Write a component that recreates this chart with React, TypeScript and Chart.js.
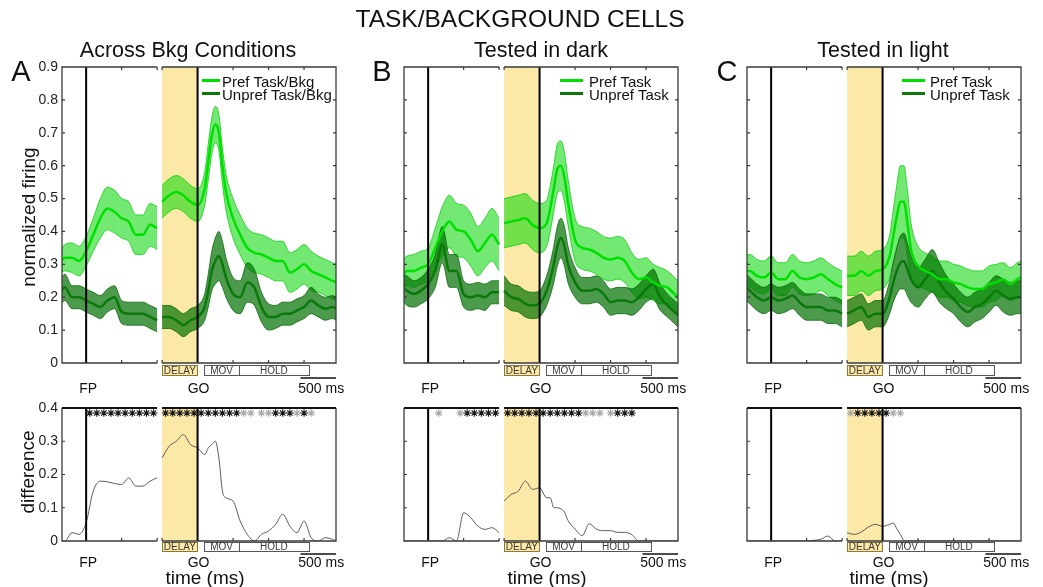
import React, { useEffect, useRef } from 'react';
import { Chart, registerables } from 'chart.js';
Chart.register(...registerables);

const W = 1043, H = 587;
const FONT = '"Liberation Sans", Arial, Helvetica, sans-serif';

// ---------- time bases (ms) ----------
const LEFT_T = [-350, -300, -200, -100, 0, 100, 200, 300, 400, 500, 600, 700, 800, 900, 1000]; // aligned to FP
const RIGHT_T = [-500, -400, -300, -200, -100, 0, 100, 150, 200, 250, 300, 350, 400, 500, 600, 700, 800, 900, 1000, 1100, 1200, 1300, 1400, 1500, 1600, 1700, 1800, 1900, 1950]; // aligned to GO
const X_START = -340;
const FP_TIME = 0;
const LEFT_END = 1000;
const GAP_MS = 70;
const DELAY_START = -500;
const RIGHT_END = 1950;
const GO_OFFSET = LEFT_END + GAP_MS - DELAY_START;
const X_END = GO_OFFSET + RIGHT_END;
const MOV_START = 90, MOV_END = 585, HOLD_END = 1565;
const SCALE_BAR_MS = 500;
const X_TICKS_FP = [500, 1000];
const X_TICKS_GO = [-500, 500, 1000, 1500];
const TOP_Y_MAX = 0.9, BOT_Y_MAX = 0.4, Y_STEP = 0.1;
const STAR_Y = 0.385;

// ---------- Panel A: across background conditions ----------
const A_PREF_L = [0.31, 0.32, 0.32, 0.31, 0.34, 0.39, 0.44, 0.47, 0.46, 0.44, 0.43, 0.39, 0.39, 0.42, 0.41];
const A_PREF_L_SEM = [0.035, 0.04, 0.045, 0.045, 0.045, 0.05, 0.06, 0.065, 0.065, 0.06, 0.06, 0.06, 0.06, 0.065, 0.065];
const A_PREF_R = [0.49, 0.51, 0.52, 0.51, 0.49, 0.48, 0.53, 0.61, 0.69, 0.725, 0.70, 0.60, 0.52, 0.44, 0.39, 0.35, 0.335, 0.33, 0.32, 0.31, 0.31, 0.275, 0.285, 0.30, 0.28, 0.27, 0.26, 0.25, 0.245];
const A_PREF_R_SEM = [0.05, 0.05, 0.05, 0.05, 0.05, 0.05, 0.05, 0.055, 0.055, 0.055, 0.055, 0.055, 0.055, 0.06, 0.06, 0.06, 0.06, 0.06, 0.06, 0.06, 0.06, 0.06, 0.06, 0.06, 0.06, 0.055, 0.055, 0.055, 0.055];
const A_UNP_L = [0.22, 0.23, 0.20, 0.20, 0.19, 0.18, 0.17, 0.19, 0.20, 0.155, 0.15, 0.15, 0.15, 0.14, 0.13];
const A_UNP_L_SEM = [0.04, 0.04, 0.035, 0.035, 0.035, 0.035, 0.035, 0.035, 0.035, 0.035, 0.035, 0.035, 0.035, 0.035, 0.035];
const A_UNP_R = [0.14, 0.14, 0.13, 0.115, 0.13, 0.14, 0.17, 0.22, 0.28, 0.31, 0.325, 0.30, 0.26, 0.21, 0.20, 0.245, 0.23, 0.17, 0.14, 0.14, 0.15, 0.15, 0.16, 0.17, 0.19, 0.175, 0.165, 0.17, 0.165];
const A_UNP_R_SEM = [0.035, 0.035, 0.035, 0.035, 0.035, 0.035, 0.04, 0.05, 0.06, 0.07, 0.075, 0.07, 0.06, 0.05, 0.05, 0.06, 0.055, 0.045, 0.04, 0.035, 0.035, 0.035, 0.035, 0.035, 0.04, 0.035, 0.035, 0.035, 0.035];
const A_DIFF_L = [0, 0, 0.025, 0.02, 0.055, 0.15, 0.18, 0.178, 0.173, 0.17, 0.19, 0.165, 0.165, 0.18, 0.19];
const A_DIFF_R = [0.25, 0.285, 0.30, 0.32, 0.29, 0.28, 0.26, 0.28, 0.29, 0.30, 0.25, 0.15, 0.13, 0.12, 0.06, 0.02, 0, 0.02, 0.03, 0.05, 0.08, 0.045, 0.025, 0.06, 0.01, 0, 0.01, 0.005, 0];
const A_STAR_BLACK_L = [50, 150, 250, 350, 450, 550, 650, 750, 850, 950];
const A_STAR_GRAY_L: number[] = [];
const A_STAR_BLACK_R = [-450, -350, -250, -150, -50, 50, 150, 250, 350, 450, 550, 1100, 1200, 1300, 1500];
const A_STAR_GRAY_R = [650, 750, 900, 1000, 1400, 1600];

// ---------- Panel B: tested in dark ----------
const B_PREF_L = [0.27, 0.28, 0.28, 0.29, 0.30, 0.35, 0.40, 0.43, 0.405, 0.40, 0.375, 0.34, 0.365, 0.39, 0.36];
const B_PREF_L_SEM = [0.045, 0.045, 0.05, 0.05, 0.05, 0.06, 0.075, 0.08, 0.08, 0.08, 0.08, 0.075, 0.075, 0.08, 0.08];
const B_PREF_R = [0.425, 0.43, 0.435, 0.44, 0.42, 0.41, 0.425, 0.47, 0.53, 0.59, 0.60, 0.565, 0.49, 0.375, 0.35, 0.345, 0.335, 0.32, 0.315, 0.32, 0.31, 0.275, 0.255, 0.26, 0.245, 0.235, 0.23, 0.21, 0.20];
const B_PREF_R_SEM = [0.075, 0.075, 0.075, 0.075, 0.075, 0.075, 0.07, 0.07, 0.07, 0.075, 0.075, 0.075, 0.07, 0.065, 0.065, 0.065, 0.065, 0.065, 0.065, 0.065, 0.065, 0.06, 0.06, 0.06, 0.055, 0.055, 0.05, 0.05, 0.05];
const B_UNP_L = [0.23, 0.22, 0.21, 0.22, 0.24, 0.28, 0.36, 0.28, 0.28, 0.21, 0.20, 0.205, 0.20, 0.215, 0.215];
const B_UNP_L_SEM = [0.04, 0.045, 0.04, 0.04, 0.045, 0.05, 0.055, 0.05, 0.05, 0.04, 0.04, 0.04, 0.04, 0.035, 0.035];
const B_UNP_R = [0.22, 0.20, 0.195, 0.18, 0.175, 0.18, 0.22, 0.255, 0.30, 0.355, 0.38, 0.355, 0.30, 0.245, 0.22, 0.22, 0.225, 0.21, 0.185, 0.19, 0.19, 0.185, 0.20, 0.225, 0.24, 0.20, 0.175, 0.155, 0.145];
const B_UNP_R_SEM = [0.045, 0.04, 0.04, 0.04, 0.04, 0.04, 0.045, 0.05, 0.055, 0.06, 0.06, 0.06, 0.055, 0.045, 0.04, 0.04, 0.04, 0.04, 0.04, 0.04, 0.04, 0.04, 0.04, 0.04, 0.045, 0.04, 0.035, 0.035, 0.035];
const B_DIFF_L = [0, 0, 0, 0, 0, 0, 0, 0.01, 0, 0.085, 0.07, 0.045, 0.035, 0.04, 0.025];
const B_DIFF_R = [0.12, 0.14, 0.15, 0.18, 0.155, 0.16, 0.13, 0.13, 0.10, 0.10, 0.097, 0.087, 0.062, 0.036, 0.016, 0.052, 0.036, 0.031, 0.031, 0.026, 0.026, 0.019, 0, 0, 0, 0, 0, 0, 0];
const B_STAR_BLACK_L = [550, 650, 750, 850, 950];
const B_STAR_GRAY_L = [150, 450];
const B_STAR_BLACK_R = [-450, -350, -250, -150, -50, 50, 150, 250, 350, 450, 550, 1100, 1200, 1300];
const B_STAR_GRAY_R = [650, 750, 850, 1000];

// ---------- Panel C: tested in light ----------
const C_PREF_L = [0.28, 0.28, 0.265, 0.26, 0.275, 0.255, 0.255, 0.28, 0.26, 0.255, 0.26, 0.27, 0.255, 0.24, 0.23];
const C_PREF_L_SEM = [0.05, 0.05, 0.05, 0.05, 0.05, 0.05, 0.05, 0.05, 0.05, 0.05, 0.05, 0.05, 0.05, 0.05, 0.05];
const C_PREF_R = [0.265, 0.265, 0.28, 0.265, 0.28, 0.285, 0.325, 0.385, 0.445, 0.49, 0.49, 0.425, 0.345, 0.295, 0.28, 0.27, 0.255, 0.255, 0.245, 0.24, 0.23, 0.225, 0.225, 0.24, 0.245, 0.255, 0.24, 0.255, 0.26];
const C_PREF_R_SEM = [0.06, 0.06, 0.06, 0.06, 0.06, 0.06, 0.065, 0.08, 0.095, 0.11, 0.11, 0.10, 0.08, 0.06, 0.055, 0.055, 0.055, 0.055, 0.055, 0.055, 0.055, 0.055, 0.055, 0.055, 0.055, 0.05, 0.05, 0.05, 0.05];
const C_UNP_L = [0.23, 0.22, 0.20, 0.19, 0.20, 0.19, 0.195, 0.205, 0.185, 0.17, 0.17, 0.17, 0.16, 0.16, 0.15];
const C_UNP_L_SEM = [0.04, 0.04, 0.04, 0.04, 0.04, 0.04, 0.04, 0.04, 0.04, 0.04, 0.04, 0.04, 0.04, 0.04, 0.04];
const C_UNP_R = [0.15, 0.16, 0.17, 0.14, 0.15, 0.15, 0.20, 0.245, 0.28, 0.305, 0.31, 0.285, 0.255, 0.23, 0.255, 0.28, 0.245, 0.215, 0.195, 0.17, 0.155, 0.17, 0.18, 0.20, 0.22, 0.205, 0.195, 0.20, 0.20];
const C_UNP_R_SEM = [0.04, 0.04, 0.04, 0.04, 0.04, 0.04, 0.05, 0.06, 0.07, 0.08, 0.085, 0.08, 0.07, 0.06, 0.06, 0.065, 0.06, 0.05, 0.045, 0.045, 0.045, 0.045, 0.045, 0.045, 0.045, 0.05, 0.05, 0.05, 0.05];
const C_DIFF_L = [0, 0, 0, 0, 0, 0, 0, 0, 0, 0, 0.002, 0.005, 0.015, 0, 0];
const C_DIFF_R = [0.025, 0.02, 0.027, 0.042, 0.05, 0.044, 0.05, 0.054, 0.037, 0.02, 0.002, 0, 0, 0, 0, 0, 0, 0, 0, 0, 0, 0, 0, 0, 0, 0, 0, 0, 0];
const C_STAR_BLACK_L: number[] = [];
const C_STAR_GRAY_L: number[] = [];
const C_STAR_BLACK_R = [-350, -250, -150, -50, 50];
const C_STAR_GRAY_R = [-450, 150, 250];

// ---------- text ----------
const FIG_TITLE = 'TASK/BACKGROUND CELLS';
const PANEL_TITLES = ['Across Bkg Conditions', 'Tested in dark', 'Tested in light'];
const PANEL_LETTERS = ['A', 'B', 'C'];
const PREF_LABELS = ['Pref Task/Bkg', 'Pref Task', 'Pref Task'];
const UNPREF_LABELS = ['Unpref Task/Bkg', 'Unpref Task', 'Unpref Task'];

const PANEL_DATA = [
  { prefL: A_PREF_L, prefLSem: A_PREF_L_SEM, prefR: A_PREF_R, prefRSem: A_PREF_R_SEM, unpL: A_UNP_L, unpLSem: A_UNP_L_SEM, unpR: A_UNP_R, unpRSem: A_UNP_R_SEM, diffL: A_DIFF_L, diffR: A_DIFF_R, sbL: A_STAR_BLACK_L, sgL: A_STAR_GRAY_L, sbR: A_STAR_BLACK_R, sgR: A_STAR_GRAY_R },
  { prefL: B_PREF_L, prefLSem: B_PREF_L_SEM, prefR: B_PREF_R, prefRSem: B_PREF_R_SEM, unpL: B_UNP_L, unpLSem: B_UNP_L_SEM, unpR: B_UNP_R, unpRSem: B_UNP_R_SEM, diffL: B_DIFF_L, diffR: B_DIFF_R, sbL: B_STAR_BLACK_L, sgL: B_STAR_GRAY_L, sbR: B_STAR_BLACK_R, sgR: B_STAR_GRAY_R },
  { prefL: C_PREF_L, prefLSem: C_PREF_L_SEM, prefR: C_PREF_R, prefRSem: C_PREF_R_SEM, unpL: C_UNP_L, unpLSem: C_UNP_L_SEM, unpR: C_UNP_R, unpRSem: C_UNP_R_SEM, diffL: C_DIFF_L, diffR: C_DIFF_R, sbL: C_STAR_BLACK_L, sgL: C_STAR_GRAY_L, sbR: C_STAR_BLACK_R, sgR: C_STAR_GRAY_R },
];

// ---------- layout & style ----------
const PLOT_LEFT = [62, 404, 747];
const PLOT_RIGHT = [336, 678, 1021];
const AXIS_W = 40;
const TOP_Y = [67, 363];
const BOT_Y = [408, 541];
const TITLE_X = [188, 541, 883];
const LETTER_X = [21, 382, 727];
const LEGEND_X = [202, 560, 902];
const LEGEND_LEN = [18, 23, 23];
const LEGEND_TEXT_X = [222, 589, 930];
const YELLOW = '#fde9a7';
const FRAME = '#3a3a3a';
const PREF_LINE = '#00e000';
const PREF_FILL = 'rgba(0,215,0,0.55)';
const PREF_EDGE = 'rgba(0,205,0,0.75)';
const UNP_LINE = '#0a780a';
const UNP_FILL = 'rgba(0,112,0,0.7)';
const UNP_EDGE = 'rgba(0,100,0,0.75)';
const DIFF_LINE = '#5a5a5a';

const seg = (ts: number[], v: number[], off: number) => ts.map((t, i) => ({ x: t + off, y: v[i] }));
const band = (ts: number[], m: number[], s: number[], off: number, sign: number) =>
  ts.map((t, i) => ({ x: t + off, y: m[i] + sign * s[i] }));

function lineDs(data: any[], color: string, width: number, extra: any = {}) {
  return { data, borderColor: color, borderWidth: width, pointRadius: 0, cubicInterpolationMode: 'monotone', fill: false, ...extra };
}

function topDatasets(p: any) {
  return [
    lineDs(seg(LEFT_T, p.prefL, 0), PREF_LINE, 2.5),
    lineDs(seg(RIGHT_T, p.prefR, GO_OFFSET), PREF_LINE, 2.5),
    lineDs(seg(LEFT_T, p.unpL, 0), UNP_LINE, 2.5),
    lineDs(seg(RIGHT_T, p.unpR, GO_OFFSET), UNP_LINE, 2.5),
    lineDs(band(LEFT_T, p.unpL, p.unpLSem, 0, 1), UNP_EDGE, 1),
    lineDs(band(LEFT_T, p.unpL, p.unpLSem, 0, -1), UNP_EDGE, 1, { fill: 4, backgroundColor: UNP_FILL }),
    lineDs(band(RIGHT_T, p.unpR, p.unpRSem, GO_OFFSET, 1), UNP_EDGE, 1),
    lineDs(band(RIGHT_T, p.unpR, p.unpRSem, GO_OFFSET, -1), UNP_EDGE, 1, { fill: 6, backgroundColor: UNP_FILL }),
    lineDs(band(LEFT_T, p.prefL, p.prefLSem, 0, 1), PREF_EDGE, 1),
    lineDs(band(LEFT_T, p.prefL, p.prefLSem, 0, -1), PREF_EDGE, 1, { fill: 8, backgroundColor: PREF_FILL }),
    lineDs(band(RIGHT_T, p.prefR, p.prefRSem, GO_OFFSET, 1), PREF_EDGE, 1),
    lineDs(band(RIGHT_T, p.prefR, p.prefRSem, GO_OFFSET, -1), PREF_EDGE, 1, { fill: 10, backgroundColor: PREF_FILL }),
  ];
}

function starDs(l: number[], r: number[], color: string) {
  const data = [...l.map((t) => ({ x: t, y: STAR_Y })), ...r.map((t) => ({ x: t + GO_OFFSET, y: STAR_Y }))];
  return { data, showLine: false, pointStyle: 'star', pointRadius: 3.8, pointBorderWidth: 1.1, pointBorderColor: color, pointBackgroundColor: 'rgba(0,0,0,0)', borderColor: color };
}

function bottomDatasets(p: any) {
  return [
    starDs(p.sbL, p.sbR, '#151515'),
    starDs(p.sgL, p.sgR, '#a8a8a8'),
    lineDs(seg(LEFT_T, p.diffL, 0), DIFF_LINE, 1),
    lineDs(seg(RIGHT_T, p.diffR, GO_OFFSET), DIFF_LINE, 1),
  ];
}

function decorPlugin(kind: 'top' | 'bottom') {
  return {
    id: 'decor',
    beforeDatasetsDraw(chart: any) {
      const { ctx, chartArea: a, scales } = chart;
      const x0 = scales.x.getPixelForValue(GO_OFFSET + DELAY_START);
      const x1 = scales.x.getPixelForValue(GO_OFFSET);
      ctx.save();
      ctx.fillStyle = YELLOW;
      ctx.fillRect(x0, a.top, x1 - x0, a.bottom - a.top);
      ctx.restore();
    },
    afterDatasetsDraw(chart: any) {
      const { ctx, chartArea: a, scales } = chart;
      const x = scales.x, y = scales.y;
      const px = (c: number) => x.getPixelForValue(c);
      const xl = a.left, xr = a.right, yt = a.top, yb = a.bottom;
      const xLe = px(LEFT_END), xRs = px(GO_OFFSET + DELAY_START);
      ctx.save();
      ctx.strokeStyle = '#000';
      ctx.lineWidth = 2;
      for (const c of [FP_TIME, GO_OFFSET]) {
        ctx.beginPath();
        ctx.moveTo(px(c), yt);
        ctx.lineTo(px(c), yb);
        ctx.stroke();
      }
      ctx.strokeStyle = FRAME;
      ctx.lineWidth = 1.3;
      ctx.beginPath();
      if (kind === 'top') { ctx.moveTo(xLe, yt); ctx.lineTo(xl, yt); } else ctx.moveTo(xl, yt);
      ctx.lineTo(xl, yb);
      ctx.lineTo(xLe, yb);
      ctx.moveTo(xRs, yb);
      ctx.lineTo(xr, yb);
      ctx.lineTo(xr, yt);
      if (kind === 'top') ctx.lineTo(xRs, yt);
      ctx.stroke();
      if (kind === 'bottom') {
        ctx.strokeStyle = '#111';
        ctx.lineWidth = 2.2;
        ctx.beginPath();
        ctx.moveTo(xl, yt); ctx.lineTo(xLe, yt);
        ctx.moveTo(xRs, yt); ctx.lineTo(xr, yt);
        ctx.stroke();
      }
      ctx.strokeStyle = FRAME;
      ctx.lineWidth = 1.2;
      ctx.beginPath();
      for (const t of y.ticks) {
        if (t.value <= y.min + 1e-9 || t.value >= y.max - 1e-9) continue;
        const py = y.getPixelForValue(t.value);
        ctx.moveTo(xl, py); ctx.lineTo(xl + 3, py);
        if (kind === 'top') { ctx.moveTo(xr, py); ctx.lineTo(xr - 3, py); }
      }
      const xt = [...X_TICKS_FP, ...X_TICKS_GO.map((t) => t + GO_OFFSET)];
      for (const c of xt) {
        const p = px(c);
        ctx.moveTo(p, yb); ctx.lineTo(p, yb - 3);
        if (kind === 'top') { ctx.moveTo(p, yt); ctx.lineTo(p, yt + 3); }
      }
      ctx.stroke();
      ctx.restore();
    },
    afterDraw(chart: any) {
      const { ctx, chartArea: a, scales } = chart;
      const px = (c: number) => scales.x.getPixelForValue(c);
      const o = kind === 'top' ? { box: 2, boxH: 10, bar: 15, lab: 26 } : { box: 1, boxH: 9, bar: 13, lab: 22 };
      const yb = a.bottom;
      ctx.save();
      const box = (c0: number, c1: number, label: string, fill: string, stroke: string) => {
        const x0 = px(c0), x1 = px(c1);
        ctx.fillStyle = fill;
        ctx.fillRect(x0, yb + o.box, x1 - x0, o.boxH);
        ctx.strokeStyle = stroke;
        ctx.lineWidth = 1;
        ctx.strokeRect(Math.round(x0) + 0.5, Math.round(yb + o.box) + 0.5, Math.round(x1 - x0), o.boxH);
        ctx.fillStyle = '#3a3a3a';
        ctx.font = `10px ${FONT}`;
        ctx.textAlign = 'center';
        ctx.textBaseline = 'middle';
        ctx.fillText(label, (x0 + x1) / 2, yb + o.box + o.boxH / 2 + 1);
      };
      box(GO_OFFSET + DELAY_START, GO_OFFSET, 'DELAY', YELLOW, '#8a7a3a');
      box(GO_OFFSET + MOV_START, GO_OFFSET + MOV_END, 'MOV', '#fff', '#555');
      box(GO_OFFSET + MOV_END, GO_OFFSET + HOLD_END, 'HOLD', '#fff', '#555');
      const b0 = px(X_END - SCALE_BAR_MS), b1 = px(X_END);
      ctx.strokeStyle = '#111';
      ctx.lineWidth = 1.3;
      ctx.beginPath();
      ctx.moveTo(b0, yb + o.bar); ctx.lineTo(b1, yb + o.bar);
      ctx.stroke();
      ctx.fillStyle = '#111';
      ctx.font = `14px ${FONT}`;
      ctx.textAlign = 'center';
      ctx.textBaseline = 'middle';
      ctx.fillText('FP', px(FP_TIME) + 2, yb + o.lab);
      ctx.fillText('GO', px(GO_OFFSET) + 1, yb + o.lab);
      ctx.fillText(`${SCALE_BAR_MS} ms`, (b0 + b1) / 2 + 3, yb + o.lab);
      ctx.restore();
    },
  };
}

function PanelChart({ idx, kind }: { idx: number; kind: 'top' | 'bottom' }) {
  const ref = useRef<HTMLCanvasElement>(null);
  useEffect(() => {
    const p = PANEL_DATA[idx];
    const yr = kind === 'top' ? TOP_Y : BOT_Y;
    const yMax = kind === 'top' ? TOP_Y_MAX : BOT_Y_MAX;
    const chart = new Chart(ref.current as HTMLCanvasElement, {
      type: 'line',
      data: { datasets: (kind === 'top' ? topDatasets(p) : bottomDatasets(p)) as any },
      options: {
        responsive: false,
        animation: false,
        events: [],
        layout: { padding: { left: PLOT_LEFT[idx] - AXIS_W, right: W - PLOT_RIGHT[idx], top: yr[0], bottom: H - yr[1] } },
        plugins: { legend: { display: false }, tooltip: { enabled: false }, title: { display: false } },
        scales: {
          x: { type: 'linear', min: X_START, max: X_END, display: false },
          y: {
            type: 'linear',
            min: 0,
            max: yMax,
            position: 'left',
            grid: { display: false, drawTicks: false },
            border: { display: false },
            ticks: { stepSize: Y_STEP, display: idx === 0, padding: 4, color: '#222', font: { family: FONT, size: 14 } },
            afterFit: (s: any) => { s.width = AXIS_W; },
          },
        },
      } as any,
      plugins: [decorPlugin(kind)],
    });
    return () => chart.destroy();
  }, [idx, kind]);
  return <canvas ref={ref} width={W} height={H} style={{ position: 'absolute', left: 0, top: 0 }} />;
}

function Txt({ x, y, size, children, rotate, left }: any) {
  return (
    <div
      style={{
        position: 'absolute', left: x, top: y, fontFamily: FONT, fontSize: size, lineHeight: 1, whiteSpace: 'nowrap', color: '#111',
        transform: `translate(${left ? '0' : '-50%'}, -50%)${rotate ? ` rotate(${rotate}deg)` : ''}`,
      }}
    >
      {children}
    </div>
  );
}

export default function App() {
  return (
    <div style={{ position: 'absolute', left: 0, top: 0, width: W, height: H, background: '#fff', overflow: 'hidden' }}>
      {[0, 1, 2].map((i) => (
        <React.Fragment key={i}>
          <PanelChart idx={i} kind="top" />
          <PanelChart idx={i} kind="bottom" />
        </React.Fragment>
      ))}
      <Txt x={520} y={19} size={24.5}>{FIG_TITLE}</Txt>
      {[0, 1, 2].map((i) => (
        <React.Fragment key={'t' + i}>
          <Txt x={TITLE_X[i]} y={51} size={21.5}>{PANEL_TITLES[i]}</Txt>
          <Txt x={LETTER_X[i]} y={71} size={29}>{PANEL_LETTERS[i]}</Txt>
          <div style={{ position: 'absolute', left: LEGEND_X[i], top: 79, width: LEGEND_LEN[i], height: 3, background: PREF_LINE }} />
          <div style={{ position: 'absolute', left: LEGEND_X[i], top: 92, width: LEGEND_LEN[i], height: 3, background: UNP_LINE }} />
          <Txt x={LEGEND_TEXT_X[i]} y={81} size={15} left>{PREF_LABELS[i]}</Txt>
          <Txt x={LEGEND_TEXT_X[i]} y={94} size={15} left>{UNPREF_LABELS[i]}</Txt>
        </React.Fragment>
      ))}
      <Txt x={28} y={217} size={19} rotate={-90}>normalized firing</Txt>
      <Txt x={27} y={472} size={19} rotate={-90}>difference</Txt>
      <Txt x={205} y={577} size={19}>time (ms)</Txt>
      <Txt x={547} y={577} size={19}>time (ms)</Txt>
      <Txt x={889} y={577} size={19}>time (ms)</Txt>
    </div>
  );
}
